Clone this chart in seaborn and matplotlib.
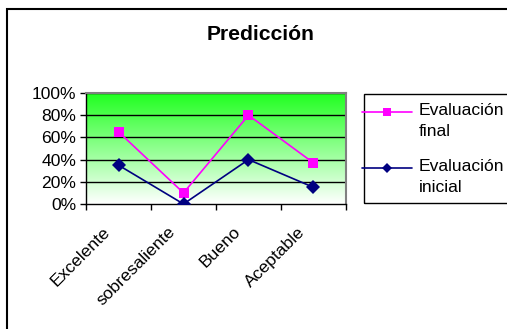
import matplotlib
matplotlib.use("Agg")
import matplotlib.pyplot as plt
import matplotlib.patches as mpatches
import matplotlib.transforms as mtransforms
from matplotlib.legend_handler import HandlerLine2D
from matplotlib.ticker import PercentFormatter, FixedLocator, NullFormatter
import seaborn as sns
import pandas as pd
import numpy as np

categories = ["Excelente", "sobresaliente", "Bueno", "Aceptable"]
final = [0.65, 0.10, 0.80, 0.37]
inicial = [0.35, 0.00, 0.40, 0.15]
series_names = ["Evaluación\nfinal", "Evaluación\ninicial"]

sns.set_theme(style="white")
plt.rcParams["font.family"] = ["Liberation Sans", "DejaVu Sans"]
plt.rcParams["text.color"] = "black"
plt.rcParams["xtick.color"] = "black"
plt.rcParams["ytick.color"] = "black"

df = pd.DataFrame({
    "Categoria": categories * 2,
    "Valor": final + inicial,
    "Serie": [series_names[0]] * 4 + [series_names[1]] * 4,
})

fig = plt.figure(figsize=(5.07, 3.29), dpi=100)
ax = fig.add_axes([86 / 507, 1 - 204 / 329, 260 / 507, 111 / 329])

# green gradient background of the plot area
grad = np.linspace(0, 1, 256).reshape(-1, 1)
cmap = matplotlib.colors.LinearSegmentedColormap.from_list("g", ["#ffffff", "#20ff20"])
ax.imshow(grad, extent=(-0.5, 3.5, 0, 1), origin="lower", aspect="auto",
          cmap=cmap, zorder=0)

sns.lineplot(data=df, x="Categoria", y="Valor", hue="Serie", style="Serie",
             palette=["#ff00ff", "#000080"], markers=["s", "D"], dashes=False,
             markersize=7, linewidth=1.2, markeredgewidth=0, ax=ax, zorder=3)

ax.set_xlim(-0.5, 3.5)
ax.set_ylim(0, 1)
ax.set_xlabel("")
ax.set_ylabel("")

for v in [0.2, 0.4, 0.6, 0.8, 1.0]:
    ax.axhline(v, color="black", lw=1.0, zorder=1)

ax.yaxis.set_major_formatter(PercentFormatter(1.0, decimals=0))
ax.set_yticks([0, 0.2, 0.4, 0.6, 0.8, 1.0])
ax.tick_params(axis="y", direction="out", length=4, width=1, color="black",
               labelsize=12.6, pad=3, left=True)

ax.xaxis.set_major_locator(FixedLocator([-0.5, 0.5, 1.5, 2.5, 3.5]))
ax.xaxis.set_major_formatter(NullFormatter())
ax.xaxis.set_minor_locator(FixedLocator([0, 1, 2, 3]))
ax.set_xticklabels(categories, minor=True)
ax.tick_params(axis="x", which="major", direction="out", length=4, width=1,
               color="black", bottom=True)
ax.tick_params(axis="x", which="minor", length=0, labelsize=12.6, pad=5)
shift = mtransforms.ScaledTranslation(-16 / 100, -13 / 100, fig.dpi_scale_trans)
for lbl in ax.get_xticklabels(minor=True):
    lbl.set_rotation(45)
    lbl.set_ha("right")
    lbl.set_va("top")
    lbl.set_rotation_mode("anchor")
    lbl.set_transform(lbl.get_transform() + shift)

for side in ["left", "bottom"]:
    ax.spines[side].set_color("black")
    ax.spines[side].set_linewidth(1.0)
for side in ["top", "right"]:
    ax.spines[side].set_color("#808080")
    ax.spines[side].set_linewidth(1.5)


class FirstLineHandler(HandlerLine2D):
    # put the legend sample next to the first line of a two-line label
    def create_artists(self, legend, orig_handle, xdescent, ydescent,
                       width, height, fontsize, trans):
        return super().create_artists(legend, orig_handle, xdescent,
                                      ydescent - 1.0 * fontsize, width, height,
                                      fontsize, trans)


handles, labels = ax.get_legend_handles_labels()
ax.legend_.remove()
leg = fig.legend(handles, labels, loc="upper left",
                 bbox_to_anchor=(362 / 507, 1 - 103 / 329),
                 fontsize=12.6, frameon=False, handlelength=2.85,
                 handletextpad=0.4, borderpad=0, labelspacing=1.15,
                 borderaxespad=0,
                 handler_map={h: FirstLineHandler() for h in handles})
for t in leg.get_texts():
    t.set_linespacing(1.48)
for h in leg.legend_handles:
    h.set_markersize(5.5)

legend_box = mpatches.Rectangle((364 / 507, 1 - 203 / 329), 0.5, 109 / 329,
                                transform=fig.transFigure, fill=False,
                                edgecolor="black", lw=1.0, clip_on=False)
fig.add_artist(legend_box)

fig.text(261 / 507, 1 - 34 / 329, "Predicción", ha="center", va="center",
         fontsize=15.2, fontweight="bold")

# outer chart border (left and top edges visible)
border = mpatches.Rectangle((6.5 / 507, -0.5), 2, 0.5 + (329 - 9) / 329,
                            transform=fig.transFigure, fill=False,
                            edgecolor="black", lw=1.5, clip_on=False)
fig.add_artist(border)

fig.savefig("out.png", dpi=100)
